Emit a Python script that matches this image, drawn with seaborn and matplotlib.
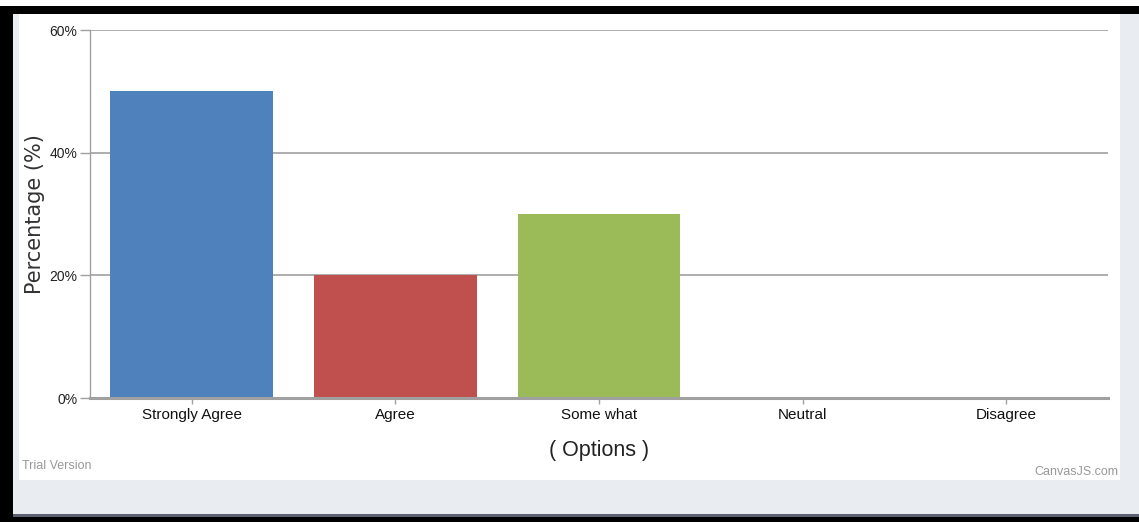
import matplotlib
matplotlib.use("Agg")
import matplotlib.pyplot as plt
import seaborn as sns
import pandas as pd
from matplotlib.patches import Rectangle
from matplotlib.ticker import FuncFormatter

# chart data
options = ["Strongly Agree", "Agree", "Some what", "Neutral", "Disagree"]
percentages = [50, 20, 30, 0, 0]
bar_colors = ["#4f81bd", "#c0504d", "#9bbb59", "#8064a2", "#4bacc6"]
y_ticks = [0, 20, 40, 60]

df = pd.DataFrame({"option": options, "pct": percentages})

sns.set_theme(style="white")
plt.rcParams["font.family"] = ["Liberation Sans", "DejaVu Sans"]

W, H = 1139, 522
fig = plt.figure(figsize=(W / 100, H / 100), dpi=100, facecolor="white")


def px_rect(x0, y0, x1, y1, color):
    fig.patches.append(Rectangle((x0 / W, 1 - y1 / H), (x1 - x0) / W, (y1 - y0) / H,
                                 transform=fig.transFigure, facecolor=color,
                                 edgecolor="none", zorder=-10))


# page frame around the chart
px_rect(0, 6, W, 14, "black")
px_rect(0, 6, 13, H, "black")
px_rect(13, 14, W, 517, "#e9ecf1")
px_rect(19, 14, 1120, 480, "white")
px_rect(13, 514, W, 517, "#5a6070")
px_rect(0, 517, W, H, "black")

ax = fig.add_axes([90 / W, (H - 398) / H, (1108 - 90) / W, (398 - 30) / H])
ax.set_facecolor("none")

sns.barplot(data=df, x="option", y="pct", hue="option", palette=bar_colors,
            width=0.8, legend=False, saturation=1, linewidth=0,
            ax=ax, zorder=3)

ax.set_ylim(0, 60)
ax.set_yticks(y_ticks)
ax.yaxis.set_major_formatter(FuncFormatter(lambda v, p: f"{int(v)}%"))
for v in y_ticks[1:]:
    ax.axhline(v, color="#a0a0a0", linewidth=1.2, zorder=1)

for s in ["top", "right"]:
    ax.spines[s].set_visible(False)
ax.spines["left"].set_color("#a0a0a0")
ax.spines["left"].set_linewidth(1)
ax.spines["bottom"].set_color("#a0a0a0")
ax.spines["bottom"].set_linewidth(2.2)
ax.spines["bottom"].set_zorder(4)

ax.tick_params(axis="y", left=True, length=7, width=1, color="#a0a0a0",
               labelsize=10, labelcolor="#222222", pad=2)
ax.tick_params(axis="x", bottom=True, length=4, width=1, color="#a0a0a0",
               labelsize=11, labelcolor="#111111", pad=3)

ax.set_ylabel("Percentage (%)", fontsize=15, color="#333333", labelpad=3,
              family=["DejaVu Sans"])
ax.set_xlabel("( Options )", fontsize=15.5, color="#222222", labelpad=13)

fig.text(22 / W, 1 - 466 / H, "Trial Version", fontsize=9, color="#999999",
         ha="left", va="center")
fig.text(1118 / W, 1 - 472 / H, "CanvasJS.com", fontsize=9, color="#999999",
         ha="right", va="center")

fig.savefig("out.png", dpi=100, facecolor="white")
